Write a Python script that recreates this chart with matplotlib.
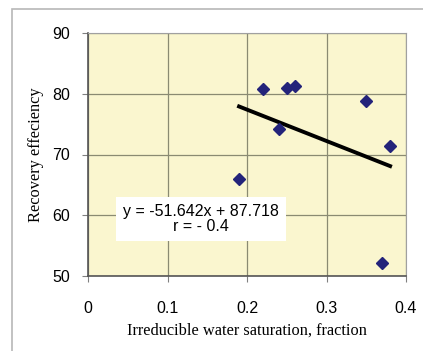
import matplotlib.pyplot as plt
import numpy as np

# irreducible water saturation vs recovery efficiency
swi = [0.19, 0.22, 0.24, 0.25, 0.26, 0.35, 0.37, 0.38]
recovery = [66.0, 80.8, 74.2, 81.0, 81.2, 78.8, 52.1, 71.4]

slope, intercept = -51.642, 87.718
fit_x = np.array([min(swi), max(swi)])

fig = plt.figure(figsize=(4.23, 3.51), dpi=100)
# light frame around the chart area
fig.patches.append(plt.Rectangle((12 / 423, -0.1), 1.2, 1 - 9 / 351 + 0.1,
                                 transform=fig.transFigure, fill=False,
                                 edgecolor='#b8b8b8', linewidth=1.2))
ax = fig.add_axes([88 / 423, 1 - 276 / 351, 318 / 423, 243 / 351])
ax.set_facecolor('#faf6cf')

ax.plot(swi, recovery, 'D', color='#23237a', markersize=6, zorder=3)
ax.plot(fit_x, slope * fit_x + intercept, color='black', linewidth=2.8, zorder=2)

ax.set_xlim(0, 0.4)
ax.set_ylim(50, 90)
ax.set_xticks([0, 0.1, 0.2, 0.3, 0.4])
ax.set_xticklabels(['0', '0.1', '0.2', '0.3', '0.4'])
ax.set_yticks([50, 60, 70, 80, 90])
ax.grid(True, color='#8a8a72', linewidth=0.9)
ax.set_axisbelow(True)

for side in ['left', 'bottom']:
    ax.spines[side].set_color('#555555')
    ax.spines[side].set_linewidth(1.2)
for side in ['top', 'right']:
    ax.spines[side].set_color('#a0a0a0')
ax.tick_params(direction='out', length=4, width=0.8, color='#808080',
               labelsize=11.5)
ax.yaxis.set_tick_params(pad=9)
ax.xaxis.set_tick_params(pad=14)
for lab in ax.get_xticklabels() + ax.get_yticklabels():
    lab.set_fontfamily('Liberation Sans')

ax.set_xlabel('Irreducible water saturation, fraction', family='Liberation Serif',
              fontsize=11.8, labelpad=5)
ax.set_ylabel('Recovery effeciency', family='Liberation Serif', fontsize=11.8,
              labelpad=6)

ax.text(0.142, 59.4, 'y = -51.642x + 87.718\nr = - 0.4', ha='center', va='center',
        family='Liberation Sans', fontsize=11.5, linespacing=1.05,
        bbox=dict(facecolor='white', edgecolor='none', pad=5), zorder=4)

fig.savefig('out.png', dpi=100)
